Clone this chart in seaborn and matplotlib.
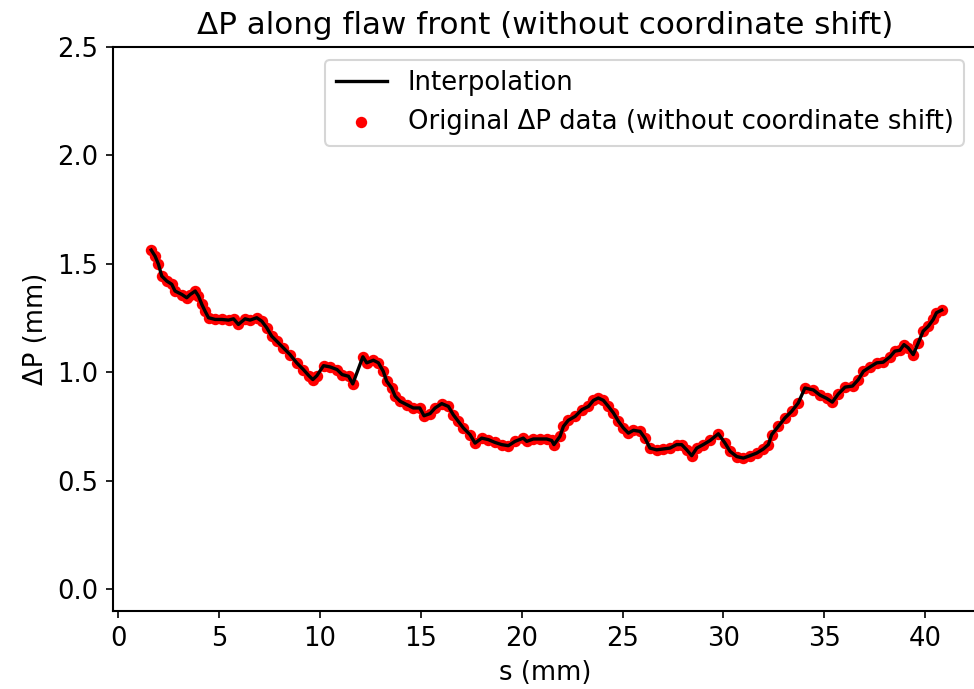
import matplotlib
matplotlib.use("Agg")
import matplotlib.pyplot as plt
import seaborn as sns
import pandas as pd

s_mm = [1.64, 1.83, 2.00, 2.16, 2.41, 2.66, 2.82, 3.16, 3.40, 3.57, 3.82, 3.98,
        4.15, 4.31, 4.48, 4.81, 5.14, 5.47, 5.72, 5.96, 6.29, 6.54, 6.87, 7.12,
        7.37, 7.61, 7.86, 8.19, 8.52, 8.85, 9.18, 9.45, 9.65, 9.85, 10.18, 10.51,
        10.85, 11.10, 11.42, 11.63, 12.13, 12.32, 12.65, 12.90, 13.14, 13.31, 13.56,
        13.73, 13.97, 14.31, 14.63, 14.95, 15.16, 15.46, 15.71, 16.04, 16.37, 16.61,
        16.86, 17.11, 17.44, 17.69, 18.02, 18.35, 18.68, 19.01, 19.34, 19.67, 20.08,
        20.25, 20.58, 20.91, 21.24, 21.49, 21.60, 21.90, 22.07, 22.31, 22.65, 22.98,
        23.31, 23.56, 23.80, 24.05, 24.30, 24.55, 24.80, 25.04, 25.29, 25.54, 25.87,
        26.11, 26.36, 26.69, 27.02, 27.35, 27.68, 27.93, 28.18, 28.43, 28.68, 29.00,
        29.34, 29.75, 30.08, 30.33, 30.66, 30.99, 31.32, 31.65, 31.98, 32.23, 32.39,
        32.72, 33.05, 33.38, 33.71, 34.04, 34.46, 34.79, 35.12, 35.40, 35.69, 36.03,
        36.40, 36.69, 36.94, 37.27, 37.60, 37.92, 38.26, 38.50, 38.75, 38.95, 39.16,
        39.41, 39.66, 39.90, 40.16, 40.40, 40.56, 40.82]
dp_mm = [1.564, 1.536, 1.498, 1.444, 1.421, 1.406, 1.375, 1.359, 1.344, 1.359, 1.375, 1.352,
         1.313, 1.282, 1.252, 1.244, 1.244, 1.241, 1.247, 1.221, 1.247, 1.241, 1.252, 1.236,
         1.205, 1.167, 1.144, 1.113, 1.082, 1.044, 1.013, 0.985, 0.967, 0.985, 1.031, 1.025,
         1.013, 0.990, 0.982, 0.947, 1.072, 1.044, 1.056, 1.044, 1.005, 0.959, 0.928,
         0.890, 0.867, 0.851, 0.836, 0.836, 0.800, 0.810, 0.836, 0.856, 0.843, 0.805,
         0.774, 0.744, 0.713, 0.674, 0.697, 0.690, 0.677, 0.667, 0.662, 0.682, 0.697,
         0.682, 0.693, 0.693, 0.693, 0.686, 0.667, 0.705, 0.751, 0.779, 0.797, 0.828,
         0.843, 0.871, 0.882, 0.871, 0.843, 0.813, 0.774, 0.744, 0.720, 0.733, 0.728,
         0.697, 0.651, 0.643, 0.647, 0.651, 0.667, 0.667, 0.643, 0.616, 0.651, 0.667,
         0.686, 0.717, 0.674, 0.636, 0.612, 0.605, 0.616, 0.628, 0.647, 0.667, 0.713,
         0.751, 0.790, 0.820, 0.859, 0.928, 0.919, 0.895, 0.880, 0.863, 0.900, 0.932,
         0.937, 0.967, 1.005, 1.025, 1.044, 1.047, 1.072, 1.098, 1.102, 1.128, 1.113,
         1.082, 1.136, 1.190, 1.213, 1.244, 1.275, 1.287]

df = pd.DataFrame({"s": s_mm, "dp": dp_mm})

plt.rcParams["font.size"] = 12.4
plt.rcParams["axes.linewidth"] = 1.0

W, H, DPI = 974, 689, 150
fig = plt.figure(figsize=(W / DPI, H / DPI), dpi=DPI)
left, right, bottom, top = 112.7, 977.0, 611.0, 47.0
ax = fig.add_axes([left / W, (H - bottom) / H, (right - left) / W, (bottom - top) / H])

sns.scatterplot(data=df, x="s", y="dp", ax=ax, color="red", s=30, linewidth=0,
                label="Original ΔP data (without coordinate shift)", zorder=2)
sns.lineplot(data=df, x="s", y="dp", ax=ax, color="black", linewidth=1.6,
             label="Interpolation", zorder=3)

ax.set_xlim(-0.27, 42.57)
ax.set_ylim(-0.1, 2.5)
ax.set_xticks([0, 5, 10, 15, 20, 25, 30, 35, 40])
ax.set_yticks([0.0, 0.5, 1.0, 1.5, 2.0, 2.5])
ax.set_xlabel("s (mm)")
ax.set_ylabel("ΔP (mm)")
ax.set_title("ΔP along flaw front (without coordinate shift)")

handles, labels = ax.get_legend_handles_labels()
order = [labels.index("Interpolation"),
         labels.index("Original ΔP data (without coordinate shift)")]
ax.legend([handles[i] for i in order], [labels[i] for i in order], loc="upper right")

fig.savefig("out.png", dpi=DPI)
